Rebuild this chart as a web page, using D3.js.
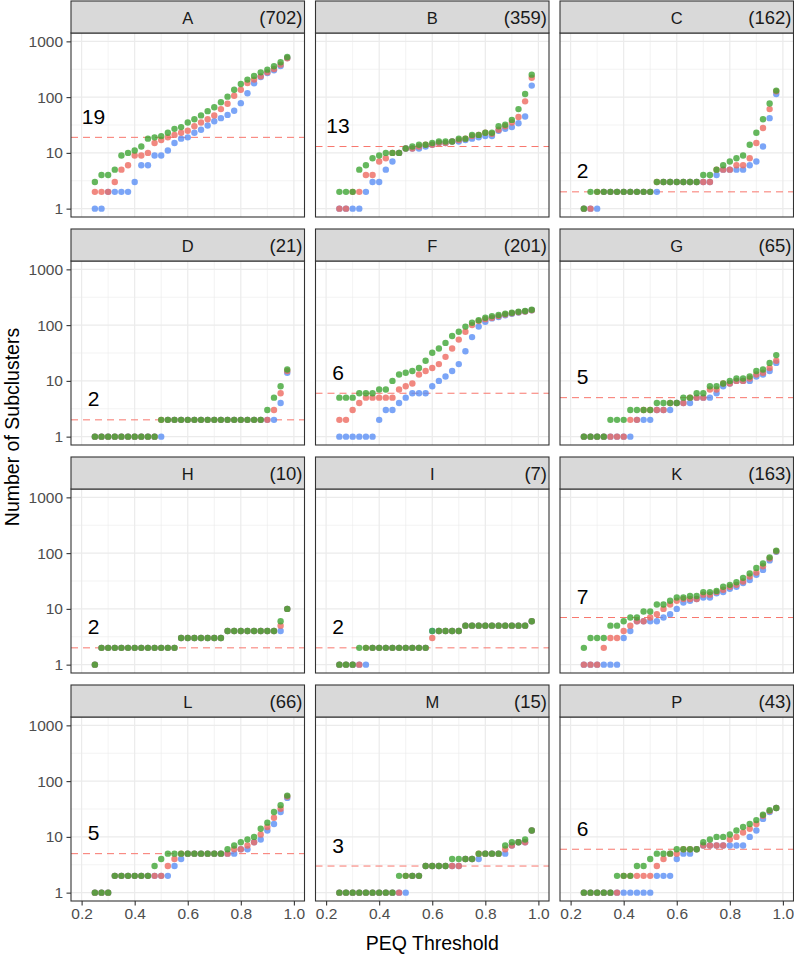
<!DOCTYPE html>
<html><head><meta charset="utf-8">
<script src="https://cdn.jsdelivr.net/npm/d3@7/dist/d3.min.js"></script>
<style>
body{margin:0;background:#fff}
svg{display:block}
text{font-family:"Liberation Sans",Arial,Helvetica,sans-serif}
</style>
</head><body>
<svg id="chart" width="794" height="956"></svg>
<script>
// ---------- data ----------
const thresholds = [0.25,0.275,0.3,0.325,0.35,0.375,0.4,0.425,0.45,0.475,0.5,0.525,0.55,0.575,0.6,0.625,0.65,0.675,0.7,0.725,0.75,0.775,0.8,0.825,0.85,0.875,0.9,0.925,0.95,0.975];
const panelNames = ["A","B","C","D","F","G","H","I","K","L","M","P"];
const panelCounts = [702,359,162,21,201,65,10,7,163,66,15,43];
const cutoffs = [19,13,2,2,6,5,2,2,7,5,3,6];
const seriesNames = ["blue","red","green"];
const yTicks = [1,10,100,1000];
const xTicks = [0.2,0.4,0.6,0.8,1.0];
const xMinorTicks = [0.3,0.5,0.7,0.9];

const A_red   = [2,2,2,3,5,6,9,9,10,15,17,19,21,23,25,30,35,40,47,61,76,106,136,179,206,236,278,319,382,497];
const A_green = [3,4,4,5,9,10,11,13,18,19,20,23,27,29,35,40,47,56,66,81,102,136,172,206,239,278,311,357,421,525];
const A_blue  = [1,1,2,2,2,2,3,6,6,9,9,11,15,18,19,23,26,31,37,42,48,57,78,117,177,230,271,302,362,503];

const B_red   = [1,1,2,2,4,4,7,8,10,10,12,12,13,14,14,15,15,16,17,18,20,21,23,22,26,30,35,44,84,223];
const B_green = [2,2,2,5,6,8,9,10,10,10,12,13,14,14,15,16,16,16,18,18,21,21,23,23,30,32,39,61,114,253];
const B_blue  = [1,1,1,1,2,3,3,5,7,10,12,12,12,13,14,15,15,16,16,17,18,19,20,20,25,27,29,34,45,161];

const C_red   = [1,1,2,2,2,2,2,2,2,2,2,3,3,3,3,3,3,3,3,3,5,5,5,6,6,8,15,28,61,127];
const C_green = [1,2,2,2,2,2,2,2,2,2,2,3,3,3,3,3,3,3,4,4,5,6,7,8,9,14,23,40,77,131];
const C_blue  = [1,1,1,2,2,2,2,2,2,2,2,2,3,3,3,3,3,3,3,3,4,5,5,5,5,6,7,13,42,114];

const D_red   = [1,1,1,1,1,1,1,1,1,1,2,2,2,2,2,2,2,2,2,2,2,2,2,2,2,2,2,3,6,15];
const D_green = [1,1,1,1,1,1,1,1,1,1,2,2,2,2,2,2,2,2,2,2,2,2,2,2,2,2,3,5,8,16];
const D_blue  = [1,1,1,1,1,1,1,1,1,1,1,2,2,2,2,2,2,2,2,2,2,2,2,2,2,2,2,2,4,14];

const F_red   = [2,2,3,4,5,5,5,5,5,7,8,9,13,15,17,20,27,38,55,76,100,118,128,136,145,155,163,170,176,185];
const F_green = [5,5,5,6,6,6,7,7,10,13,14,15,17,23,32,38,48,64,76,94,110,122,136,145,152,160,167,174,179,189];
const F_blue  = [1,1,1,1,1,1,2,3,3,4,5,6,6,6,8,10,12,15,20,34,61,94,115,132,140,150,160,168,175,185];

const G_red   = [1,1,1,1,1,1,1,2,2,3,3,3,3,4,4,4,5,5,5,7,7,9,9,10,10,11,13,14,17,23];
const G_green = [1,1,1,1,2,2,2,3,3,3,3,4,4,4,4,5,5,6,6,8,8,9,10,11,11,12,15,16,21,29];
const G_blue  = [1,1,1,1,1,1,1,1,2,2,2,3,3,3,4,4,4,5,5,5,6,8,9,10,10,10,12,13,15,21];

const H_red   = [1,2,2,2,2,2,2,2,2,2,2,2,2,3,3,3,3,3,3,3,4,4,4,4,4,4,4,4,5,10];
const H_green = [1,2,2,2,2,2,2,2,2,2,2,2,2,3,3,3,3,3,3,3,4,4,4,4,4,4,4,4,6,10];
const H_blue  = [1,2,2,2,2,2,2,2,2,2,2,2,2,3,3,3,3,3,3,3,4,4,4,4,4,4,4,4,4,10];

const I_red   = [1,1,1,1,2,2,2,2,2,2,2,2,2,2,3,4,4,4,4,5,5,5,5,5,5,5,5,5,5,6];
const I_green = [1,1,1,2,2,2,2,2,2,2,2,2,2,2,4,4,4,4,4,5,5,5,5,5,5,5,5,5,5,6];
const I_blue  = [1,1,1,1,1,2,2,2,2,2,2,2,2,2,4,4,4,4,4,5,5,5,5,5,5,5,5,5,5,6];

const K_red   = [1,1,1,2,3,3,4,5,6,6,7,8,10,12,14,15,15,15,18,18,20,22,25,27,31,38,45,58,80,108];
const K_green = [2,3,3,3,5,5,6,7,7,9,9,12,12,14,16,16,17,17,20,20,21,25,27,30,36,43,54,65,84,110];
const K_blue  = [1,1,1,1,1,1,3,4,6,6,6,6,7,8,10,13,14,15,16,16,19,20,23,25,29,33,41,50,74,106];

const L_red   = [1,1,1,2,2,2,2,2,2,2,2,3,4,5,5,5,5,5,5,5,5,6,6,7,8,11,15,22,32,53];
const L_green = [1,1,1,2,2,2,2,2,2,3,4,5,5,5,5,5,5,5,5,5,6,7,8,9,10,14,18,28,37,55];
const L_blue  = [1,1,1,2,2,2,2,2,2,2,2,2,3,4,5,5,5,5,5,5,5,5,6,6,8,9,13,17,28,50];

const M_red   = [1,1,1,1,1,1,1,1,1,1,2,2,2,3,3,3,3,3,3,4,4,5,5,5,5,6,7,8,8,13];
const M_green = [1,1,1,1,1,1,1,1,1,2,2,2,2,3,3,3,3,4,4,4,4,5,5,5,5,7,8,8,9,13];
const M_blue  = [1,1,1,1,1,1,1,1,1,1,1,2,2,3,3,3,3,3,3,4,4,4,5,5,5,5,7,8,8,13];

const P_red   = [1,1,1,1,1,1,2,2,2,2,2,3,4,5,5,6,6,6,7,7,7,7,9,10,12,14,17,24,29,33];
const P_green = [1,1,1,1,1,2,2,2,3,3,4,5,5,5,6,6,6,6,8,9,10,10,11,13,15,17,20,25,30,33];
const P_blue  = [1,1,1,1,1,1,1,1,1,1,1,2,2,2,4,5,5,6,7,7,7,7,7,7,7,10,13,21,28,33];

// ---------- assemble ----------
const seriesByPanel = {
  A:{red:A_red,green:A_green,blue:A_blue}, B:{red:B_red,green:B_green,blue:B_blue},
  C:{red:C_red,green:C_green,blue:C_blue}, D:{red:D_red,green:D_green,blue:D_blue},
  F:{red:F_red,green:F_green,blue:F_blue}, G:{red:G_red,green:G_green,blue:G_blue},
  H:{red:H_red,green:H_green,blue:H_blue}, I:{red:I_red,green:I_green,blue:I_blue},
  K:{red:K_red,green:K_green,blue:K_blue}, L:{red:L_red,green:L_green,blue:L_blue},
  M:{red:M_red,green:M_green,blue:M_blue}, P:{red:P_red,green:P_green,blue:P_blue}
};
const colors = {red:"#EE6A60", green:"#3FA535", blue:"#5A8EF5"};

// ---------- layout ----------
const svg = d3.select("#chart");
const left = 71, right = 793.5, gapX = 11;
const pw = (right - left - 2*gapX)/3;
const stripH = 32, plotH = 184, rowStep = 228, top0 = 1;
const FONT = '"Liberation Sans",Arial,Helvetica,sans-serif';

const x = d3.scaleLinear().domain([0.16, 1.04]).range([0, pw]);
const y = d3.scaleLog().domain([Math.pow(10,-0.15), Math.pow(10,3.15)]).range([plotH, 0]);
const yMinor = [Math.pow(10,0.5), Math.pow(10,1.5), Math.pow(10,2.5)];

panelNames.forEach((name, k) => {
  const col = k % 3, row = Math.floor(k / 3);
  const px = left + col*(pw + gapX);
  const sy = top0 + row*rowStep;
  const py = sy + stripH;
  const g = svg.append("g").attr("transform", `translate(${px},${py})`);

  g.append("rect").attr("width", pw).attr("height", plotH).attr("fill", "#fff");
  g.selectAll(".gxm").data(xMinorTicks).join("line")
    .attr("x1", d=>x(d)).attr("x2", d=>x(d)).attr("y1",0).attr("y2",plotH)
    .attr("stroke","#EBEBEB").attr("stroke-width",0.6);
  g.selectAll(".gym").data(yMinor).join("line")
    .attr("y1", d=>y(d)).attr("y2", d=>y(d)).attr("x1",0).attr("x2",pw)
    .attr("stroke","#EBEBEB").attr("stroke-width",0.6);
  g.selectAll(".gx").data(xTicks).join("line")
    .attr("x1", d=>x(d)).attr("x2", d=>x(d)).attr("y1",0).attr("y2",plotH)
    .attr("stroke","#EBEBEB").attr("stroke-width",1.2);
  g.selectAll(".gy").data(yTicks).join("line")
    .attr("y1", d=>y(d)).attr("y2", d=>y(d)).attr("x1",0).attr("x2",pw)
    .attr("stroke","#EBEBEB").attr("stroke-width",1.2);

  const c = cutoffs[k];
  g.append("line").attr("x1",0).attr("x2",pw).attr("y1",y(c)).attr("y2",y(c))
    .attr("stroke","#F8766D").attr("stroke-width",1).attr("stroke-dasharray","7,5");
  g.append("text").attr("x", x(0.245)).attr("y", y(c) - 21)
    .attr("text-anchor","middle").attr("dominant-baseline","central")
    .attr("font-size",21).attr("fill","#000").text(c);

  seriesNames.forEach(s => {
    const vals = seriesByPanel[name][s];
    g.append("g").selectAll("circle")
      .data(thresholds.map((t,i)=>({t, v: vals[i]})).filter(d=>d.v!=null && d.v>0))
      .join("circle")
      .attr("cx", d=>x(d.t)).attr("cy", d=>y(d.v)).attr("r", 3.2)
      .attr("fill", colors[s]).attr("fill-opacity", 0.8);
  });

  g.append("rect").attr("width", pw).attr("height", plotH)
    .attr("fill","none").attr("stroke","#333").attr("stroke-width",1.1);

  const st = svg.append("g").attr("transform", `translate(${px},${sy})`);
  st.append("rect").attr("width", pw).attr("height", stripH)
    .attr("fill","#D9D9D9").attr("stroke","#333").attr("stroke-width",1.1);
  st.append("text").attr("x", pw/2).attr("y", stripH/2 + 0.5).attr("dominant-baseline","central")
    .attr("text-anchor","middle").attr("font-size",16.5).attr("fill","#1A1A1A").text(name);
  st.append("text").attr("x", pw-2).attr("y", stripH/2 + 0.5).attr("dominant-baseline","central")
    .attr("text-anchor","end").attr("font-size",18.5).attr("fill","#1A1A1A").text("(" + panelCounts[k] + ")");

  if (col === 0) {
    const ax = g.append("g").call(d3.axisLeft(y).tickValues(yTicks).tickFormat(d3.format("d")).tickSize(4.5).tickPadding(3.5));
    ax.select(".domain").remove();
    ax.selectAll(".tick line").attr("stroke","#333").attr("stroke-width",1.1);
    ax.selectAll(".tick text").attr("fill","#4D4D4D").attr("font-size",15.5).style("font-family",FONT);
  }
  if (row === 3) {
    const ax = g.append("g").attr("transform",`translate(0,${plotH})`)
      .call(d3.axisBottom(x).tickValues(xTicks).tickFormat(d3.format(".1f")).tickSize(4.5).tickPadding(2.5));
    ax.select(".domain").remove();
    ax.selectAll(".tick line").attr("stroke","#333").attr("stroke-width",1.1);
    ax.selectAll(".tick text").attr("fill","#4D4D4D").attr("font-size",15.5).style("font-family",FONT);
  }
});

svg.append("text").attr("x", (left+right)/2).attr("y", 943).attr("text-anchor","middle")
  .attr("dominant-baseline","central").attr("font-size",19.5).attr("fill","#000").text("PEQ Threshold");
svg.append("text").attr("transform","translate(12,427) rotate(-90)").attr("text-anchor","middle")
  .attr("dominant-baseline","central").attr("font-size",19.5).attr("fill","#000").text("Number of Subclusters");
</script>
</body></html>
